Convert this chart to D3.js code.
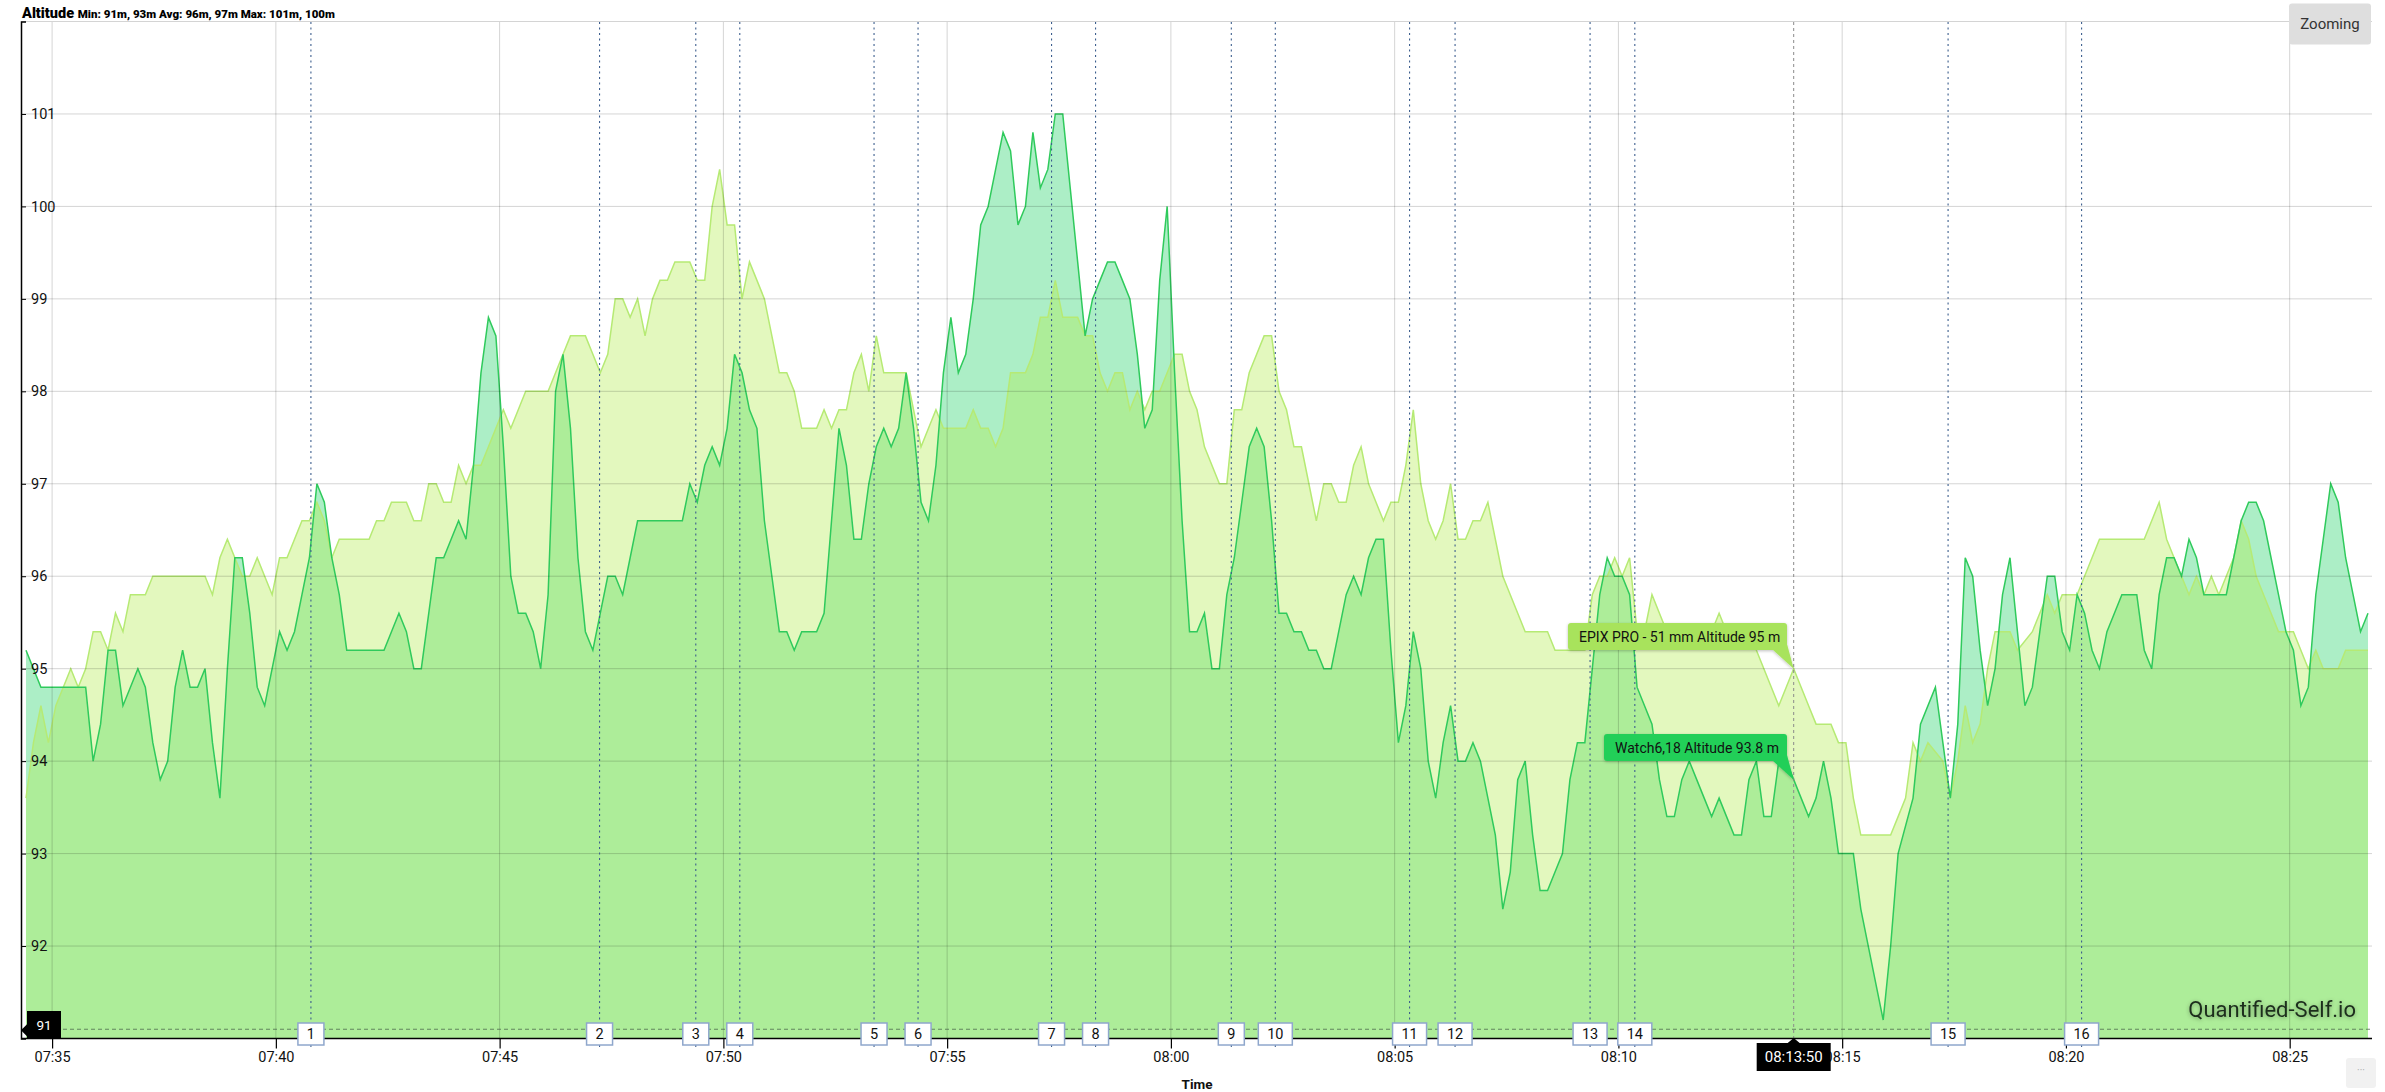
<!DOCTYPE html>
<html>
<head>
<meta charset="utf-8">
<script src="https://cdn.jsdelivr.net/npm/d3@7"></script>
<style>
body { margin: 0; background: #fff; }
svg { display: block; font-family: Roboto, "Open Sans", sans-serif; }
</style>
</head>
<body>
<div id="chart"></div>
<script>
// seconds after 07:35:00 and altitude in metres
var watchSec = [-35,-15,45,55,65,75,85,95,105,115,125,135,145,155,165,175,185,195,205,215,225,235,245,255,265,275,285,295,305,315,325,335,345,355,365,375,385,395,445,455,465,475,485,495,505,515,525,535,545,555,565,575,585,595,605,615,625,635,645,655,665,675,685,695,705,715,725,735,745,755,765,775,785,845,855,865,875,885,895,905,915,925,935,945,955,965,975,985,995,1005,1025,1035,1045,1055,1065,1075,1085,1095,1105,1115,1125,1135,1145,1155,1165,1175,1185,1195,1205,1215,1225,1235,1245,1255,1265,1275,1285,1295,1305,1315,1325,1335,1345,1355,1365,1375,1385,1395,1405,1415,1425,1435,1445,1455,1465,1475,1485,1495,1505,1515,1525,1535,1545,1555,1565,1575,1585,1595,1605,1615,1625,1635,1645,1655,1665,1675,1685,1695,1705,1715,1725,1735,1745,1755,1765,1775,1785,1795,1805,1815,1825,1835,1845,1855,1865,1875,1885,1895,1905,1915,1925,1935,1945,1955,1965,1975,1985,1995,2005,2015,2025,2035,2045,2055,2065,2075,2085,2095,2105,2115,2125,2135,2145,2155,2165,2175,2185,2195,2205,2215,2225,2235,2245,2255,2265,2275,2285,2295,2305,2315,2325,2335,2345,2355,2365,2375,2385,2395,2415,2425,2445,2455,2465,2475,2495,2505,2525,2535,2545,2555,2565,2575,2585,2595,2605,2615,2625,2635,2645,2655,2665,2675,2685,2695,2705,2715,2725,2735,2745,2755,2765,2775,2795,2805,2815,2825,2835,2845,2855,2865,2875,2885,2915,2925,2935,2945,2955,2965,2975,2985,2995,3005,3015,3025,3035,3055,3065,3075,3085,3095,3105];
var watchAlt = [95.2,94.8,94.8,94.0,94.4,95.2,95.2,94.6,94.8,95.0,94.8,94.2,93.8,94.0,94.8,95.2,94.8,94.8,95.0,94.2,93.6,95.0,96.2,96.2,95.6,94.8,94.6,95.0,95.4,95.2,95.4,95.8,96.2,97.0,96.8,96.2,95.8,95.2,95.2,95.4,95.6,95.4,95.0,95.0,95.6,96.2,96.2,96.4,96.6,96.4,97.2,98.2,98.8,98.6,97.4,96.0,95.6,95.6,95.4,95.0,95.8,98.0,98.4,97.6,96.2,95.4,95.2,95.6,96.0,96.0,95.8,96.2,96.6,96.6,97.0,96.8,97.2,97.4,97.2,97.6,98.4,98.2,97.8,97.6,96.6,96.0,95.4,95.4,95.2,95.4,95.4,95.6,96.6,97.6,97.2,96.4,96.4,97.0,97.4,97.6,97.4,97.6,98.2,97.6,96.8,96.6,97.2,98.2,98.8,98.2,98.4,99.0,99.8,100.0,100.4,100.8,100.6,99.8,100.0,100.8,100.2,100.4,101.0,101.0,100.2,99.4,98.6,99.0,99.2,99.4,99.4,99.2,99.0,98.4,97.6,97.8,99.2,100.0,98.2,96.6,95.4,95.4,95.6,95.0,95.0,95.8,96.2,96.8,97.4,97.6,97.4,96.6,95.6,95.6,95.4,95.4,95.2,95.2,95.0,95.0,95.4,95.8,96.0,95.8,96.2,96.4,96.4,95.2,94.2,94.6,95.4,95.0,94.0,93.6,94.2,94.6,94.0,94.0,94.2,94.0,93.6,93.2,92.4,92.8,93.8,94.0,93.2,92.6,92.6,92.8,93.0,93.8,94.2,94.2,95.0,95.8,96.2,96.0,96.0,95.8,94.8,94.6,94.4,93.8,93.4,93.4,93.8,94.0,93.8,93.6,93.4,93.6,93.4,93.2,93.2,93.8,94.0,93.4,93.4,94.0,94.0,93.8,93.6,93.4,93.6,94.0,93.6,93.0,93.0,92.4,91.6,91.2,92.0,93.0,93.6,94.4,94.8,94.2,93.6,94.4,96.2,96.0,95.2,94.6,95.0,95.8,96.2,95.4,94.6,94.8,95.4,96.0,96.0,95.4,95.2,95.8,95.6,95.2,95.0,95.4,95.6,95.8,95.8,95.2,95.0,95.8,96.2,96.2,96.0,96.4,96.2,95.8,95.8,96.2,96.6,96.8,96.8,96.6,96.2,95.8,95.4,95.2,94.6,94.8,95.8,97.0,96.8,96.2,95.8,95.4,95.6];

var epixSec = [-35,-25,-15,-5,5,15,25,35,45,55,65,75,85,95,105,125,135,205,215,225,235,245,255,265,275,285,295,305,315,325,335,345,355,365,375,385,425,435,445,455,475,485,495,505,515,525,535,545,555,565,575,585,595,605,615,625,635,665,675,685,695,715,725,735,745,755,765,775,785,795,805,815,825,835,855,865,875,885,895,905,915,925,935,945,955,965,975,985,995,1005,1025,1035,1045,1055,1065,1075,1085,1095,1105,1115,1145,1155,1165,1175,1185,1195,1225,1235,1245,1255,1265,1275,1285,1305,1315,1325,1335,1345,1355,1375,1385,1395,1405,1415,1425,1435,1445,1455,1465,1475,1485,1495,1505,1515,1525,1535,1545,1555,1565,1575,1585,1595,1605,1615,1625,1635,1645,1655,1665,1675,1685,1695,1705,1715,1725,1735,1745,1755,1765,1775,1785,1795,1805,1815,1825,1835,1845,1855,1865,1875,1885,1895,1905,1915,1925,1935,1945,1955,1965,1975,2005,2015,2055,2065,2075,2085,2095,2105,2115,2125,2135,2145,2155,2165,2225,2235,2245,2275,2285,2295,2305,2315,2325,2335,2345,2355,2365,2385,2395,2405,2415,2425,2465,2475,2485,2495,2505,2515,2535,2545,2555,2565,2575,2585,2595,2605,2625,2635,2655,2675,2685,2695,2715,2725,2745,2805,2815,2825,2835,2845,2855,2865,2875,2885,2895,2905,2915,2925,2935,2945,2955,2965,2975,2985,3005,3015,3025,3035,3045,3065,3075,3105];
var epixAlt = [93.6,94.2,94.6,94.2,94.6,94.8,95.0,94.8,95.0,95.4,95.4,95.2,95.6,95.4,95.8,95.8,96.0,96.0,95.8,96.2,96.4,96.2,96.0,96.0,96.2,96.0,95.8,96.2,96.2,96.4,96.6,96.6,96.8,96.6,96.2,96.4,96.4,96.6,96.6,96.8,96.8,96.6,96.6,97.0,97.0,96.8,96.8,97.2,97.0,97.2,97.2,97.4,97.6,97.8,97.6,97.8,98.0,98.0,98.2,98.4,98.6,98.6,98.4,98.2,98.4,99.0,99.0,98.8,99.0,98.6,99.0,99.2,99.2,99.4,99.4,99.2,99.2,100.0,100.4,99.8,99.8,99.0,99.4,99.2,99.0,98.6,98.2,98.2,98.0,97.6,97.6,97.8,97.6,97.8,97.8,98.2,98.4,98.0,98.6,98.2,98.2,97.8,97.4,97.6,97.8,97.6,97.6,97.8,97.6,97.6,97.4,97.6,98.2,98.2,98.4,98.8,98.8,99.2,98.8,98.8,98.6,98.6,98.2,98.0,98.2,98.2,97.8,98.0,97.8,98.0,98.0,98.2,98.4,98.4,98.0,97.8,97.4,97.2,97.0,97.0,97.8,97.8,98.2,98.4,98.6,98.6,98.0,97.8,97.4,97.4,97.0,96.6,97.0,97.0,96.8,96.8,97.2,97.4,97.0,96.8,96.6,96.8,96.8,97.2,97.8,97.0,96.6,96.4,96.6,97.0,96.4,96.4,96.6,96.6,96.8,96.4,96.0,95.8,95.6,95.4,95.4,95.2,95.2,95.8,96.0,96.0,96.2,96.0,96.2,95.4,95.4,95.8,95.6,95.4,95.4,95.6,95.4,95.4,95.2,95.0,94.8,94.6,94.8,95.0,94.8,94.6,94.4,94.4,94.2,94.2,93.6,93.2,93.2,93.4,93.6,94.2,94.0,94.2,94.0,93.6,94.0,94.6,94.2,94.4,95.0,95.4,95.4,95.2,95.4,95.8,95.6,95.8,95.8,96.0,96.4,96.4,96.6,96.8,96.4,96.2,96.0,95.8,96.0,95.8,96.0,95.8,96.0,96.2,96.6,96.4,96.0,95.8,95.6,95.4,95.4,95.2,95.0,95.2,95.0,95.0,95.2,95.2];

var lapNames = ["1","2","3","4","5","6","7","8","9","10","11","12","13","14","15","16"];
var lapSec = [347,734,863,922,1102,1161,1340,1399,1581,1640,1820,1881,2062,2122,2542,2721];

var yTicks = [92,93,94,95,96,97,98,99,100,101];
var cursorSec = 2335;
var cursorLabel = "08:13:50";
var cursorAlt = 91.1;

var W = 2385, H = 1092;
var plotLeft = 21, plotRight = 2372, plotTop = 22, plotBottom = 1038.5;

var t0 = new Date(2024, 0, 1, 7, 35, 0);
function toDate(s) { return new Date(t0.getTime() + s * 1000); }

var watch = watchSec.map(function(s, i) { return {t: toDate(s), v: watchAlt[i]}; });
var epix = epixSec.map(function(s, i) { return {t: toDate(s), v: epixAlt[i]}; });

var x = d3.scaleTime().domain([toDate(-35), toDate(3105)]).range([26, 2368]);
var y = d3.scaleLinear().domain([91, 102]).range([plotBottom, 21.5]);

var svg = d3.select("#chart").append("svg")
    .attr("width", W)
    .attr("height", H);

var defs = svg.append("defs");
var sh = defs.append("filter").attr("id", "shadow").attr("x", "-10%").attr("y", "-30%").attr("width", "120%").attr("height", "170%");
sh.append("feDropShadow").attr("dx", 0).attr("dy", 1).attr("stdDeviation", 1.5).attr("flood-color", "#000").attr("flood-opacity", 0.25);
var glow = defs.append("filter").attr("id", "glow").attr("x", "-10%").attr("y", "-40%").attr("width", "120%").attr("height", "180%");
glow.append("feDropShadow").attr("dx", 0).attr("dy", 1).attr("stdDeviation", 2).attr("flood-color", "#000").attr("flood-opacity", 0.35);

// areas
var area = d3.area()
    .x(function(d) { return x(d.t); })
    .y0(y(91))
    .y1(function(d) { return y(d.v); });
var line = d3.line()
    .x(function(d) { return x(d.t); })
    .y(function(d) { return y(d.v); });

svg.append("path").datum(watch)
    .attr("d", area)
    .attr("fill", "rgb(30,210,100)")
    .attr("fill-opacity", 0.37);
svg.append("path").datum(epix)
    .attr("d", area)
    .attr("fill", "rgb(175,235,70)")
    .attr("fill-opacity", 0.35);
svg.append("path").datum(epix)
    .attr("d", line)
    .attr("fill", "none")
    .attr("stroke", "#b6ea74")
    .attr("stroke-width", 1.5);
svg.append("path").datum(watch)
    .attr("d", line)
    .attr("fill", "none")
    .attr("stroke", "#2fca5c")
    .attr("stroke-width", 1.5);

// grid
var xTicks = d3.timeMinute.every(5).range(toDate(0), toDate(3060));
svg.append("g").selectAll("line").data(xTicks).join("line")
    .attr("x1", function(d) { return x(d); })
    .attr("x2", function(d) { return x(d); })
    .attr("y1", plotTop)
    .attr("y2", plotBottom)
    .attr("stroke", "rgba(0,0,0,0.17)");
svg.append("g").selectAll("line").data(yTicks.concat([102])).join("line")
    .attr("x1", plotLeft)
    .attr("x2", plotRight)
    .attr("y1", function(d) { return y(d); })
    .attr("y2", function(d) { return y(d); })
    .attr("stroke", "rgba(0,0,0,0.17)");

// lap lines
svg.append("g").selectAll("line").data(lapSec).join("line")
    .attr("x1", function(d) { return x(toDate(d)); })
    .attr("x2", function(d) { return x(toDate(d)); })
    .attr("y1", plotTop)
    .attr("y2", 1050)
    .attr("stroke", "#3c5e8e")
    .attr("stroke-width", 1.1)
    .attr("stroke-dasharray", "2,3.5");

// cursor
svg.append("line")
    .attr("x1", plotLeft).attr("x2", plotRight)
    .attr("y1", y(cursorAlt)).attr("y2", y(cursorAlt))
    .attr("stroke", "#4f6a4f")
    .attr("stroke-opacity", 0.8)
    .attr("stroke-dasharray", "4,3");
svg.append("line")
    .attr("x1", x(toDate(cursorSec))).attr("x2", x(toDate(cursorSec)))
    .attr("y1", plotTop).attr("y2", plotBottom)
    .attr("stroke", "#8a8a8a")
    .attr("stroke-dasharray", "3,3");

// axes
var xAxis = d3.axisBottom(x)
    .ticks(d3.timeMinute.every(5))
    .tickFormat(d3.timeFormat("%H:%M"))
    .tickSize(10)
    .tickSizeOuter(0)
    .tickPadding(3);
var gx = svg.append("g")
    .attr("transform", "translate(0," + plotBottom + ")")
    .call(xAxis);
gx.select(".domain").attr("d", "M" + plotLeft + ",0H" + plotRight).attr("stroke", "#000").attr("stroke-width", 1.5);
gx.selectAll(".tick line").attr("stroke", "#000").attr("stroke-width", 1.2);
gx.selectAll(".tick text").attr("font-size", 14.5).attr("fill", "#111").attr("font-family", "Roboto, sans-serif");

var yAxis = d3.axisRight(y)
    .tickValues(yTicks)
    .tickSize(5)
    .tickPadding(5);
var gy = svg.append("g")
    .attr("transform", "translate(" + plotLeft + ",0)")
    .call(yAxis);
gy.select(".domain").attr("stroke", "#000").attr("stroke-width", 1.5);
gy.selectAll(".tick line").attr("stroke", "#000");
gy.selectAll(".tick text").attr("font-size", 14.5).attr("fill", "#111").attr("font-family", "Roboto, sans-serif");

// lap labels
var laps = svg.append("g").selectAll("g").data(lapSec).join("g")
    .attr("transform", function(d) { return "translate(" + x(toDate(d)) + ",1034)"; });
laps.append("rect")
    .attr("x", function(d, i) { return lapNames[i].length > 1 ? -17 : -13; })
    .attr("y", -11)
    .attr("width", function(d, i) { return lapNames[i].length > 1 ? 34 : 26; })
    .attr("height", 22)
    .attr("fill", "#fff")
    .attr("stroke", "#8fa7cc")
    .attr("stroke-width", 1.5);
laps.append("text")
    .attr("text-anchor", "middle")
    .attr("y", 5)
    .attr("font-size", 14.5)
    .attr("fill", "#111")
    .text(function(d, i) { return lapNames[i]; });

// y cursor label
var yc = y(cursorAlt);
svg.append("path")
    .attr("d", "M21," + (yc + 1) + "L27," + (yc - 5) + "V1011H61V1038H27V" + (yc + 7) + "Z")
    .attr("fill", "#000");
svg.append("text")
    .attr("x", 44).attr("y", 1030)
    .attr("text-anchor", "middle")
    .attr("font-size", 13.5)
    .attr("fill", "#fff")
    .text("91");

// x cursor label
var xc = x(toDate(cursorSec));
svg.append("path")
    .attr("d", "M" + xc + ",1038L" + (xc + 6) + ",1043H" + (xc + 37) + "V1071H" + (xc - 37) + "V1043H" + (xc - 6) + "Z")
    .attr("fill", "#000");
svg.append("text")
    .attr("x", xc).attr("y", 1062)
    .attr("text-anchor", "middle")
    .attr("font-size", 15)
    .attr("fill", "#fff")
    .text(cursorLabel);

// tooltips
function tooltip(bx, by, bw, bh, tipY, color, label) {
    var g = svg.append("g").attr("filter", "url(#shadow)");
    g.append("path")
        .attr("d", "M" + (bx + bw - 14) + "," + (by + bh) + "L" + (bx + bw) + "," + (by + bh - 6) + "L" + xc + "," + tipY + "Z")
        .attr("fill", color);
    g.append("rect")
        .attr("x", bx).attr("y", by)
        .attr("width", bw).attr("height", bh)
        .attr("rx", 3)
        .attr("fill", color);
    svg.append("text")
        .attr("x", bx + 11).attr("y", by + bh / 2 + 5)
        .attr("font-size", 14)
        .attr("fill", "#111")
        .text(label);
}
tooltip(1568, 623, 219, 27, y(95), "#a8e35c", "EPIX PRO - 51 mm Altitude 95 m");
tooltip(1604, 734, 183, 27, y(93.8), "#22cf58", "Watch6,18 Altitude 93.8 m");

// title
var title = svg.append("text")
    .attr("x", 22).attr("y", 18)
    .attr("font-family", "Roboto, sans-serif")
    .attr("font-weight", 900)
    .attr("fill", "#000");
title.append("tspan").attr("font-size", 14.5).text("Altitude ");
title.append("tspan").attr("font-size", 11.5).text("Min: 91m, 93m Avg: 96m, 97m Max: 101m, 100m");

// axis title
svg.append("text")
    .attr("x", 1197).attr("y", 1089)
    .attr("text-anchor", "middle")
    .attr("font-size", 13.5)
    .attr("font-weight", 700)
    .attr("fill", "#111")
    .text("Time");

// watermark
svg.append("text")
    .attr("x", 2356).attr("y", 1017)
    .attr("text-anchor", "end")
    .attr("font-size", 22)
    .attr("fill", "#1d2d1d")
    .attr("filter", "url(#glow)")
    .text("Quantified-Self.io");

// zoom button
svg.append("rect")
    .attr("x", 2289).attr("y", 3.5)
    .attr("width", 82).attr("height", 41)
    .attr("rx", 3)
    .attr("fill", "#dedede");
svg.append("text")
    .attr("x", 2330).attr("y", 29)
    .attr("text-anchor", "middle")
    .attr("font-size", 15)
    .attr("fill", "#333")
    .text("Zooming");

svg.append("rect")
    .attr("x", 2346).attr("y", 1058)
    .attr("width", 30).attr("height", 30)
    .attr("rx", 3)
    .attr("fill", "#f1f1f1");
svg.append("text")
    .attr("x", 2361).attr("y", 1074)
    .attr("text-anchor", "middle")
    .attr("font-size", 10)
    .attr("fill", "#aaa")
    .text("···");
</script>
</body>
</html>
